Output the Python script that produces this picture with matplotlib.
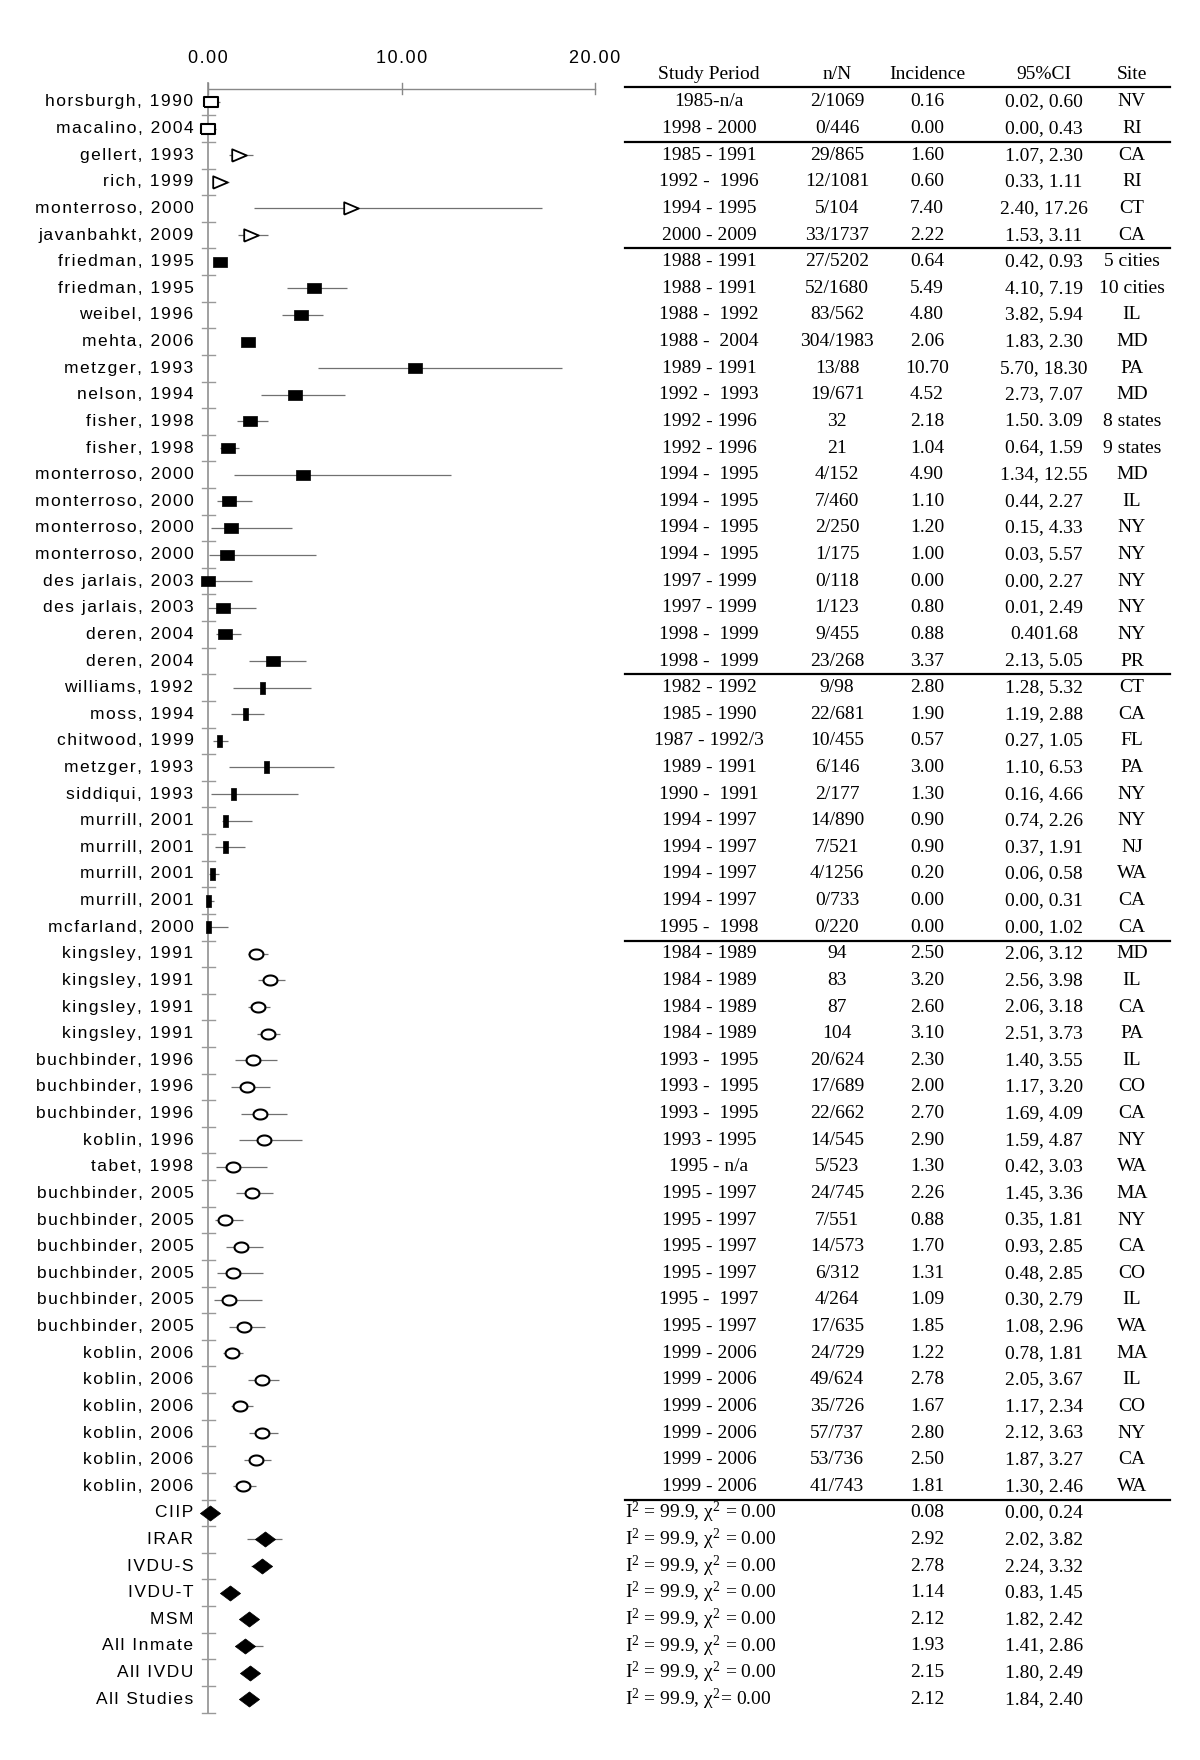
import numpy as np
import matplotlib
matplotlib.use('Agg')
import matplotlib.pyplot as plt
from matplotlib.transforms import blended_transform_factory

# upright serif maths, like the Times text of the table
plt.rcParams['mathtext.fontset'] = 'custom'
plt.rcParams['mathtext.rm'] = 'Liberation Serif'
plt.rcParams['mathtext.it'] = 'Liberation Serif'
plt.rcParams['mathtext.bf'] = 'Liberation Serif:bold'

# study rows (top to bottom)
labels = ['horsburgh, 1990', 'macalino, 2004', 'gellert, 1993', 'rich, 1999',
          'monterroso, 2000', 'javanbahkt, 2009', 'friedman, 1995', 'friedman, 1995',
          'weibel, 1996', 'mehta, 2006', 'metzger, 1993', 'nelson, 1994',
          'fisher, 1998', 'fisher, 1998', 'monterroso, 2000', 'monterroso, 2000',
          'monterroso, 2000', 'monterroso, 2000', 'des jarlais, 2003', 'des jarlais, 2003',
          'deren, 2004', 'deren, 2004', 'williams, 1992', 'moss, 1994',
          'chitwood, 1999', 'metzger, 1993', 'siddiqui, 1993', 'murrill, 2001',
          'murrill, 2001', 'murrill, 2001', 'murrill, 2001', 'mcfarland, 2000',
          'kingsley, 1991', 'kingsley, 1991', 'kingsley, 1991', 'kingsley, 1991',
          'buchbinder, 1996', 'buchbinder, 1996', 'buchbinder, 1996', 'koblin, 1996',
          'tabet, 1998', 'buchbinder, 2005', 'buchbinder, 2005', 'buchbinder, 2005',
          'buchbinder, 2005', 'buchbinder, 2005', 'buchbinder, 2005', 'koblin, 2006',
          'koblin, 2006', 'koblin, 2006', 'koblin, 2006', 'koblin, 2006', 'koblin, 2006']
period = ['1985-n/a', '1998 - 2000', '1985 - 1991', '1992 -  1996', '1994 - 1995',
          '2000 - 2009', '1988 - 1991', '1988 - 1991', '1988 -  1992', '1988 -  2004',
          '1989 - 1991', '1992 -  1993', '1992 - 1996', '1992 - 1996', '1994 -  1995',
          '1994 -  1995', '1994 -  1995', '1994 -  1995', '1997 - 1999', '1997 - 1999',
          '1998 -  1999', '1998 -  1999', '1982 - 1992', '1985 - 1990', '1987 - 1992/3',
          '1989 - 1991', '1990 -  1991', '1994 - 1997', '1994 - 1997', '1994 - 1997',
          '1994 - 1997', '1995 -  1998', '1984 - 1989', '1984 - 1989', '1984 - 1989',
          '1984 - 1989', '1993 -  1995', '1993 -  1995', '1993 -  1995', '1993 - 1995',
          '1995 - n/a', '1995 - 1997', '1995 - 1997', '1995 - 1997', '1995 - 1997',
          '1995 -  1997', '1995 - 1997', '1999 - 2006', '1999 - 2006', '1999 - 2006',
          '1999 - 2006', '1999 - 2006', '1999 - 2006']
nN = ['2/1069', '0/446', '29/865', '12/1081', '5/104', '33/1737', '27/5202', '52/1680',
      '83/562', '304/1983', '13/88', '19/671', '32', '21', '4/152', '7/460', '2/250',
      '1/175', '0/118', '1/123', '9/455', '23/268', '9/98', '22/681', '10/455', '6/146',
      '2/177', '14/890', '7/521', '4/1256', '0/733', '0/220', '94', '83', '87', '104',
      '20/624', '17/689', '22/662', '14/545', '5/523', '24/745', '7/551', '14/573',
      '6/312', '4/264', '17/635', '24/729', '49/624', '35/726', '57/737', '53/736', '41/743']
incidence = [0.16, 0.00, 1.60, 0.60, 7.40, 2.22, 0.64, 5.49, 4.80, 2.06, 10.70, 4.52,
             2.18, 1.04, 4.90, 1.10, 1.20, 1.00, 0.00, 0.80, 0.88, 3.37, 2.80, 1.90,
             0.57, 3.00, 1.30, 0.90, 0.90, 0.20, 0.00, 0.00, 2.50, 3.20, 2.60, 3.10,
             2.30, 2.00, 2.70, 2.90, 1.30, 2.26, 0.88, 1.70, 1.31, 1.09, 1.85, 1.22,
             2.78, 1.67, 2.80, 2.50, 1.81]
ci_low = [0.02, 0.00, 1.07, 0.33, 2.40, 1.53, 0.42, 4.10, 3.82, 1.83, 5.70, 2.73,
          1.50, 0.64, 1.34, 0.44, 0.15, 0.03, 0.00, 0.01, 0.40, 2.13, 1.28, 1.19,
          0.27, 1.10, 0.16, 0.74, 0.37, 0.06, 0.00, 0.00, 2.06, 2.56, 2.06, 2.51,
          1.40, 1.17, 1.69, 1.59, 0.42, 1.45, 0.35, 0.93, 0.48, 0.30, 1.08, 0.78,
          2.05, 1.17, 2.12, 1.87, 1.30]
ci_high = [0.60, 0.43, 2.30, 1.11, 17.26, 3.11, 0.93, 7.19, 5.94, 2.30, 18.30, 7.07,
           3.09, 1.59, 12.55, 2.27, 4.33, 5.57, 2.27, 2.49, 1.68, 5.05, 5.32, 2.88,
           1.05, 6.53, 4.66, 2.26, 1.91, 0.58, 0.31, 1.02, 3.12, 3.98, 3.18, 3.73,
           3.55, 3.20, 4.09, 4.87, 3.03, 3.36, 1.81, 2.85, 2.85, 2.79, 2.96, 1.81,
           3.67, 2.34, 3.63, 3.27, 2.46]
ci_text = ['0.02, 0.60', '0.00, 0.43', '1.07, 2.30', '0.33, 1.11', '2.40, 17.26',
           '1.53, 3.11', '0.42, 0.93', '4.10, 7.19', '3.82, 5.94', '1.83, 2.30',
           '5.70, 18.30', '2.73, 7.07', '1.50. 3.09', '0.64, 1.59', '1.34, 12.55',
           '0.44, 2.27', '0.15, 4.33', '0.03, 5.57', '0.00, 2.27', '0.01, 2.49',
           '0.401.68', '2.13, 5.05', '1.28, 5.32', '1.19, 2.88', '0.27, 1.05',
           '1.10, 6.53', '0.16, 4.66', '0.74, 2.26', '0.37, 1.91', '0.06, 0.58',
           '0.00, 0.31', '0.00, 1.02', '2.06, 3.12', '2.56, 3.98', '2.06, 3.18',
           '2.51, 3.73', '1.40, 3.55', '1.17, 3.20', '1.69, 4.09', '1.59, 4.87',
           '0.42, 3.03', '1.45, 3.36', '0.35, 1.81', '0.93, 2.85', '0.48, 2.85',
           '0.30, 2.79', '1.08, 2.96', '0.78, 1.81', '2.05, 3.67', '1.17, 2.34',
           '2.12, 3.63', '1.87, 3.27', '1.30, 2.46']
site = ['NV', 'RI', 'CA', 'RI', 'CT', 'CA', '5 cities', '10 cities', 'IL', 'MD', 'PA',
        'MD', '8 states', '9 states', 'MD', 'IL', 'NY', 'NY', 'NY', 'NY', 'NY', 'PR',
        'CT', 'CA', 'FL', 'PA', 'NY', 'NY', 'NJ', 'WA', 'CA', 'CA', 'MD', 'IL', 'CA',
        'PA', 'IL', 'CO', 'CA', 'NY', 'WA', 'MA', 'NY', 'CA', 'CO', 'IL', 'WA', 'MA',
        'IL', 'CO', 'NY', 'CA', 'WA']
# subgroup of each study (number of rows per group)
group_names = ['open_sq', 'tri', 'sq', 'bar', 'circ']
group_sizes = [2, 4, 16, 10, 21]

# pooled estimates
sum_labels = ['CIIP', 'IRAR', 'IVDU-S', 'IVDU-T', 'MSM', 'All Inmate', 'All IVDU', 'All Studies']
sum_est = [0.08, 2.92, 2.78, 1.14, 2.12, 1.93, 2.15, 2.12]
sum_low = [0.00, 2.02, 2.24, 0.83, 1.82, 1.41, 1.80, 1.84]
sum_high = [0.24, 3.82, 3.32, 1.45, 2.42, 2.86, 2.49, 2.40]
sum_stat = [r'$\mathrm{I}^2$ = 99.9, $\chi^2$ = 0.00'] * 7 + [r'$\mathrm{I}^2$ = 99.9, $\chi^2$= 0.00']

x_ticks = [0, 10, 20]
headers = ['Study Period', 'n/N', 'Incidence', '95%CI', 'Site']

# ---- layout ----
W, H = 1200, 1760
x0_px, px_per_unit = 208, 19.35
row1_px, pitch = 102, 26.62

fig = plt.figure(figsize=(W / 100, H / 100), dpi=100)
ax = fig.add_axes([0, 0, 1, 1])
ax.set_xlim(-x0_px / px_per_unit, (W - x0_px) / px_per_unit)
ax.set_ylim(1 + (H - row1_px) / pitch, 1 - row1_px / pitch)
ax.axis('off')

n = len(labels)
rows = np.arange(1, n + 1)
srows = np.arange(n + 1, n + 1 + len(sum_labels))
all_rows = np.concatenate([rows, srows])
last = all_rows[-1]

sans = ['Liberation Sans', 'DejaVu Sans']
serif = ['Liberation Serif', 'DejaVu Serif']


def spaced(s):
    # the original labels are letter-spaced
    return '\u200a'.join(s)


# axis
ax.plot([0, 20], [0.5, 0.5], color='#888888', lw=1.0)
ax.plot([0, 0], [0.3, last + 0.5], color='#999999', lw=1.3)
for t in x_ticks:
    ax.plot([t, t], [0.3, 0.7], color='#888888', lw=1.0)
    ax.text(t, -0.62, spaced(f'{t:.2f}'), ha='center', va='center', fontsize=13, family=sans)
for b in np.arange(1.5, last + 1, 1.0):
    ax.plot([-0.3, 0.35], [b, b], color='#999999', lw=1.0)

# CI lines
ax.hlines(rows, ci_low, ci_high, color='#707070', lw=0.9, zorder=2)
ax.hlines(srows, sum_low, sum_high, color='#707070', lw=0.9, zorder=2)

t = np.linspace(0, 2 * np.pi, 60)
shapes = {
    'open_sq': dict(marker=[(-1, -0.8), (1, -0.8), (1, 0.8), (-1, 0.8), (-1, -0.8)],
                    ms=9.5, mfc='white', mec='black', mew=1.5),
    'tri': dict(marker=[(-1, -0.85), (1, 0), (-1, 0.85), (-1, -0.85)],
                ms=10.5, mfc='white', mec='black', mew=1.3),
    'sq': dict(marker=[(-1, -0.8), (1, -0.8), (1, 0.8), (-1, 0.8), (-1, -0.8)],
               ms=9.5, mfc='black', mec='black', mew=0.5),
    'bar': dict(marker=[(-0.2, -0.5), (0.2, -0.5), (0.2, 0.5), (-0.2, 0.5), (-0.2, -0.5)],
                ms=9, mfc='black', mec='black', mew=0.5),
    'circ': dict(marker=list(zip(np.cos(t), 0.72 * np.sin(t))),
                 ms=10, mfc='white', mec='black', mew=1.5),
}
start = 0
for g, size in zip(group_names, group_sizes):
    sl = slice(start, start + size)
    ax.plot(incidence[sl], rows[sl], ls='none', zorder=3, **shapes[g])
    start += size
ax.plot(sum_est, srows, ls='none', zorder=3,
        marker=[(-1, 0), (0, 0.75), (1, 0), (0, -0.75), (-1, 0)],
        ms=14.5, mfc='black', mec='black', mew=0.5)

# labels
for r, lab in zip(all_rows, labels + sum_labels):
    ax.text(-0.75, r, spaced(lab), ha='right', va='center', fontsize=12.5, family=sans)

# table
tr = blended_transform_factory(ax.transAxes, ax.transData)
col_x = [709 / W, 837 / W, 927 / W, 1044 / W, 1132 / W]
tfs = 14
for cx, h in zip(col_x, headers):
    ax.text(cx, -0.05, h, transform=tr, ha='center', va='center', fontsize=tfs, family=serif)
ax.plot([625 / W, 1170 / W], [0.45, 0.45], transform=tr, color='black', lw=1.6)
for sep in [2.5, 6.5, 22.5, 32.5, 53.5]:
    ax.plot([625 / W, 1170 / W], [sep, sep], transform=tr, color='black', lw=1.6)

for i, r in enumerate(rows):
    vals = [period[i], nN[i], f'{incidence[i]:.2f}', ci_text[i], site[i]]
    for cx, v in zip(col_x, vals):
        ax.text(cx, r, v, transform=tr, ha='center', va='center', fontsize=tfs, family=serif)

for i, r in enumerate(srows):
    ax.text(625 / W, r, sum_stat[i], transform=tr, ha='left', va='center', fontsize=tfs, family=serif)
    ax.text(col_x[2], r, f'{sum_est[i]:.2f}', transform=tr, ha='center', va='center', fontsize=tfs, family=serif)
    ax.text(col_x[3], r, f'{sum_low[i]:.2f}, {sum_high[i]:.2f}', transform=tr, ha='center', va='center',
            fontsize=tfs, family=serif)

fig.savefig('out.png', dpi=100)
